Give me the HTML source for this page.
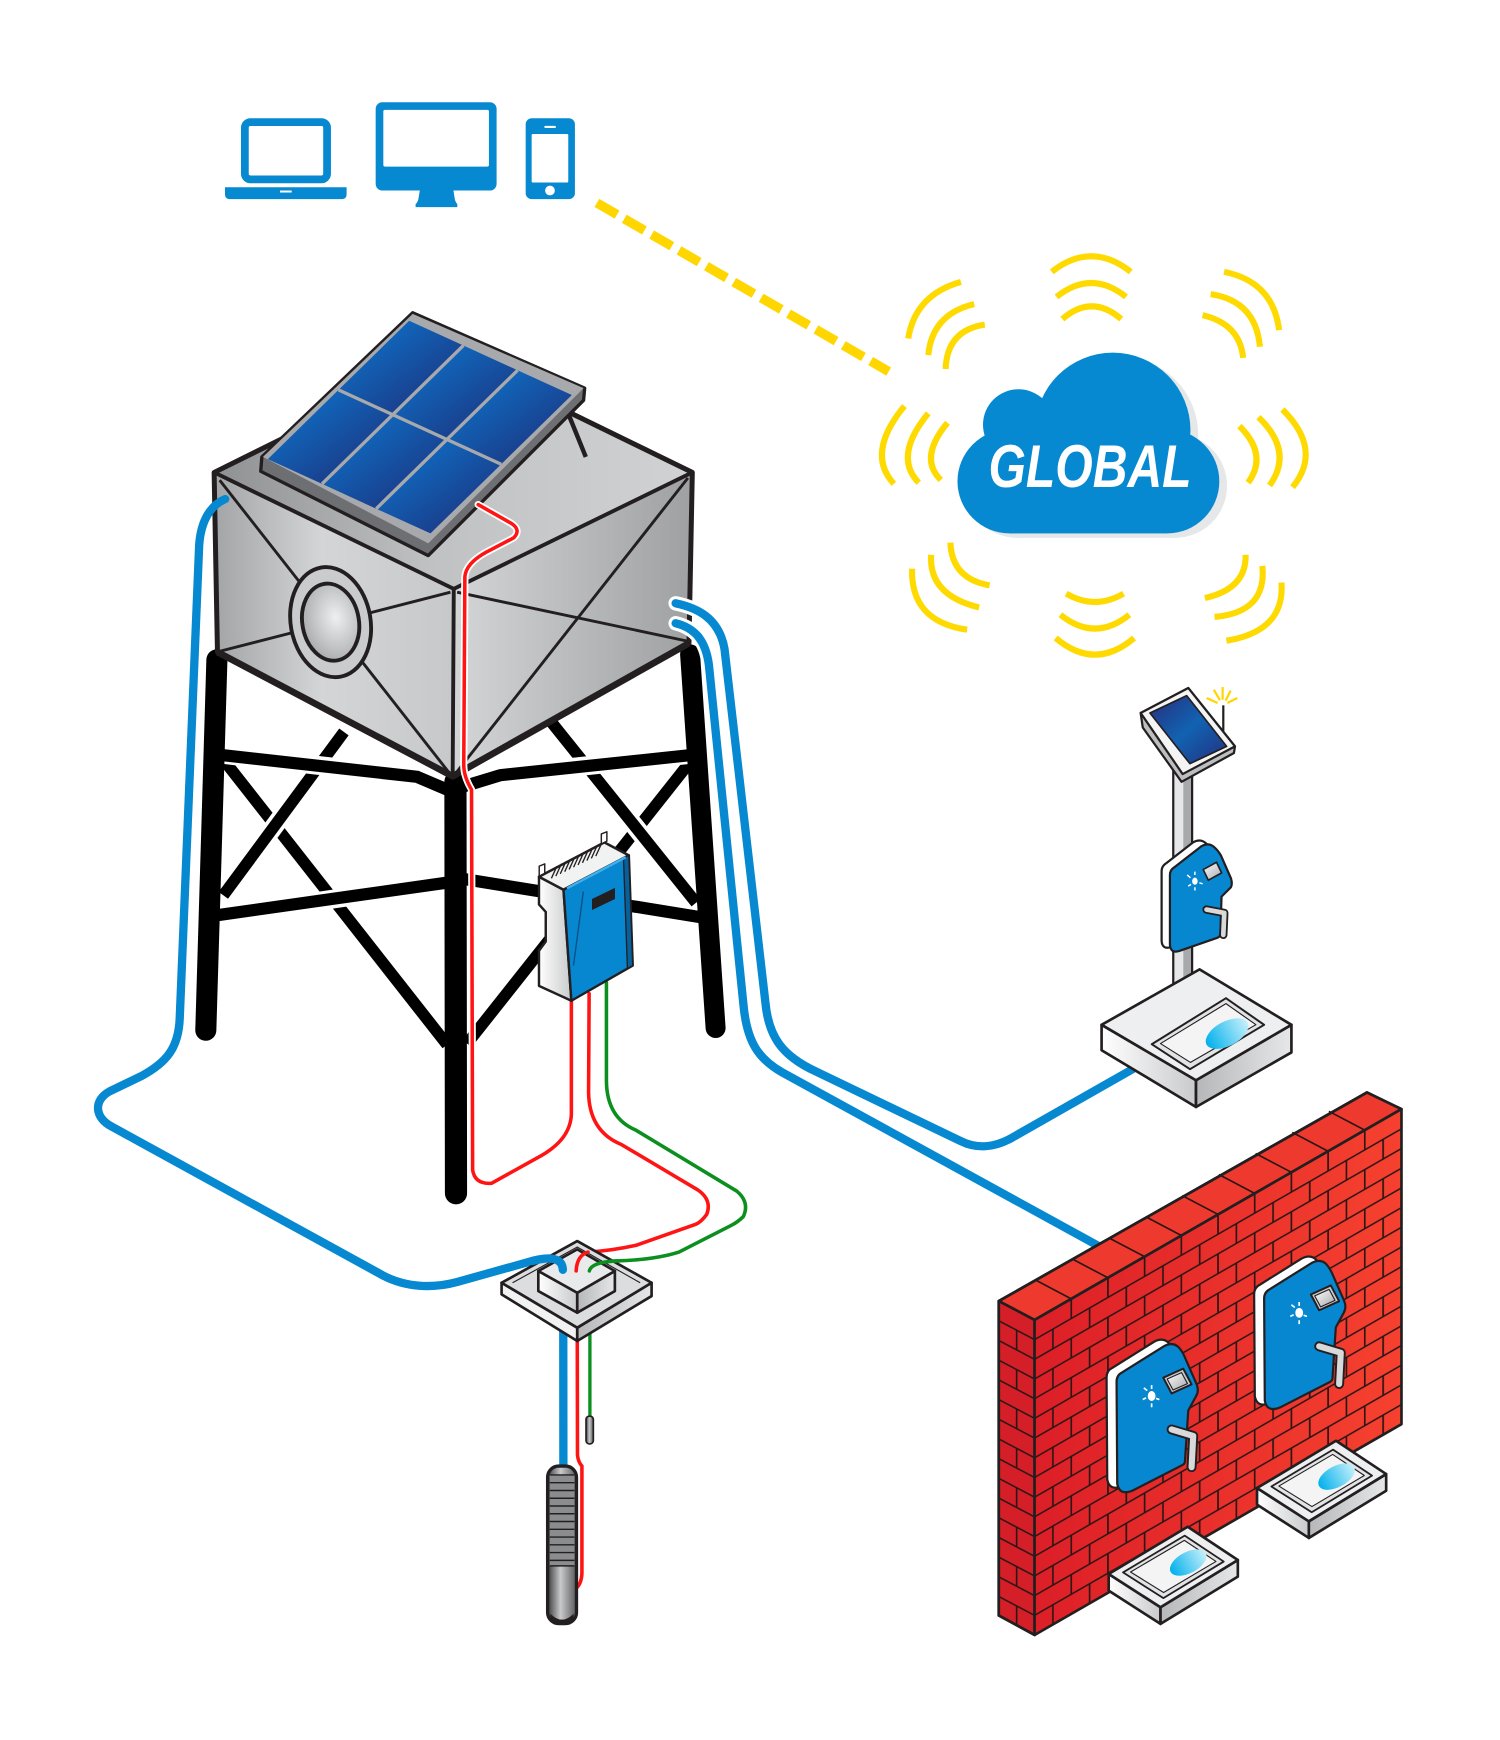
<!DOCTYPE html>
<html><head><meta charset="utf-8"><style>html,body{margin:0;padding:0;background:#fff}svg{display:block}</style></head>
<body>
<svg width="1500" height="1740" viewBox="0 0 1352 1569" preserveAspectRatio="none" xmlns="http://www.w3.org/2000/svg">
<defs>
<linearGradient id="gTop" x1="0" y1="0" x2="1" y2="0"><stop offset="0" stop-color="#8e9092"/><stop offset="0.45" stop-color="#bfc1c3"/><stop offset="1" stop-color="#d0d2d4"/></linearGradient>
<linearGradient id="gLeft" x1="0" y1="0" x2="1" y2="0"><stop offset="0" stop-color="#a2a4a6"/><stop offset="0.45" stop-color="#d3d5d7"/><stop offset="1" stop-color="#c6c8ca"/></linearGradient>
<linearGradient id="gRight" x1="0" y1="0" x2="1" y2="0"><stop offset="0" stop-color="#d3d5d7"/><stop offset="1" stop-color="#9ea0a2"/></linearGradient>
<linearGradient id="gCell" x1="0" y1="0" x2="1" y2="1"><stop offset="0" stop-color="#0b7bd4"/><stop offset="1" stop-color="#1f2a74"/></linearGradient>
<radialGradient id="gPort" cx="0.6" cy="0.45" r="0.7"><stop offset="0" stop-color="#eeeff0"/><stop offset="1" stop-color="#9fa1a4"/></radialGradient>
<linearGradient id="gWall" x1="0" y1="0" x2="1" y2="0"><stop offset="0" stop-color="#dc1f27"/><stop offset="1" stop-color="#f6412f"/></linearGradient>
<linearGradient id="gWater" x1="0" y1="0" x2="1" y2="0"><stop offset="0" stop-color="#00b0ec"/><stop offset="1" stop-color="#c6f0fa"/></linearGradient>
<linearGradient id="gScreen" x1="0" y1="0" x2="1" y2="1"><stop offset="0" stop-color="#262e7c"/><stop offset="0.5" stop-color="#1262b2"/><stop offset="1" stop-color="#23307e"/></linearGradient>
<linearGradient id="gPump" x1="0" y1="0" x2="1" y2="0"><stop offset="0" stop-color="#3b3c3e"/><stop offset="0.45" stop-color="#c8cacc"/><stop offset="1" stop-color="#58595b"/></linearGradient>
<linearGradient id="gGrayL" x1="0" y1="0" x2="1" y2="0"><stop offset="0" stop-color="#ffffff"/><stop offset="1" stop-color="#c9cacc"/></linearGradient>
<linearGradient id="gGrayR" x1="0" y1="0" x2="1" y2="0"><stop offset="0" stop-color="#b5b7b9"/><stop offset="1" stop-color="#e6e7e8"/></linearGradient>
<linearGradient id="gScr" x1="0" y1="0" x2="1" y2="1"><stop offset="0" stop-color="#ffffff"/><stop offset="1" stop-color="#a7a9ac"/></linearGradient>
<pattern id="brick" patternUnits="userSpaceOnUse" x="0" y="0" width="66.14" height="35.52">
<path d="M0,0H66.14M0,17.76H66.14M0,35.52H66.14M0,0V17.76M33.07,0V17.76M66.14,0V17.76M16.535,17.76V35.52M49.6,17.76V35.52" stroke="#2b1515" stroke-width="1.5" fill="none"/>
</pattern>
<pattern id="brickEnd" patternUnits="userSpaceOnUse" x="0" y="0" width="32.3" height="35.52">
<path d="M0,0H32.3M0,17.76H32.3M0,35.52H32.3M16.15,17.76V35.52" stroke="#2b1515" stroke-width="1.5" fill="none"/>
</pattern>
</defs>

<!-- devices -->
<g fill="#0789D1">
<rect x="220.7" y="110.1" width="74.1" height="51.6" rx="5" fill="none" stroke="#0789D1" stroke-width="7"/>
<path d="M202.8,168.8 H312.4 V175 Q312.4,179.6 307.5,179.6 H207.7 Q202.8,179.6 202.8,175 Z"/>
<rect x="252.4" y="171.8" width="10.5" height="1.8" fill="#fff"/>
<rect x="338.6" y="92.2" width="109" height="79.6" rx="6"/>
<rect x="345.5" y="99.1" width="95.2" height="51.1" rx="1.5" fill="#fff"/>
<path d="M378.5,171 L408.6,171 L410,180 Q411,183 412.2,184 L412.2,186.8 L374.6,186.8 L374.6,184 Q376,183 377,180 Z"/>
<rect x="473.8" y="106.6" width="44.4" height="73" rx="5.5"/>
<rect x="479.2" y="120.8" width="33" height="43.8" rx="1" fill="#fff"/>
<rect x="490.6" y="113.5" width="10.5" height="1.9" rx="0.9" fill="#fff"/>
<circle cx="495.7" cy="171.8" r="4.4" fill="#fff"/>
</g>

<!-- yellow dashed link -->
<line x1="538" y1="183" x2="801" y2="335" stroke="#FFD600" stroke-width="8.5" stroke-dasharray="21 7.5"/>

<!-- waves -->
<g fill="none" stroke="#FFDA00" stroke-width="5.5">
<path d="M948,245.1 Q983.6,217.1 1019.2,245.1"/>
<path d="M952.3,267.7 Q983.6,242.7 1014.9,267.7"/>
<path d="M957.5,287.7 Q984,264.7 1010.6,287.7"/>
<path d="M961,535.3 Q986.9,550.3 1012.7,535.3"/>
<path d="M955.8,554.3 Q986.9,579.3 1017.9,554.3"/>
<path d="M951.5,575.3 Q986.9,605.3 1022.2,575.3"/>
<path d="M815.2,366.2 Q780.1,408.7 805.7,436.3"/>
<path d="M836.7,372.7 Q804.8,411.4 828.1,435.3"/>
<path d="M854,381.2 Q827.6,413 848,432.8"/>
<path d="M1117.1,384.2 Q1143.4,410.2 1124.9,435.3"/>
<path d="M1134.3,376.2 Q1166.5,407 1144.3,437.8"/>
<path d="M1155.9,369.2 Q1192.7,405.7 1165,439.3"/>
<path d="M866.1,254.2 Q825,265.7 818.6,305.2"/>
<path d="M878.1,274.2 Q840.2,283.2 836.7,320.2"/>
<path d="M887.6,292.7 Q853.6,297.7 852.3,332.7"/>
<path d="M1103.3,245.1 Q1147.5,254 1152.9,297.7"/>
<path d="M1091.2,265.2 Q1132,271.4 1135.6,312.7"/>
<path d="M1083.9,284.2 Q1117.4,291.9 1120.5,322.7"/>
<path d="M856.6,489.3 Q857.9,522 892,527.8"/>
<path d="M839.3,500.3 Q836.7,536.5 882.5,547.8"/>
<path d="M822.1,512.8 Q820.5,560.3 871.7,567.8"/>
<path d="M1122.7,500.3 Q1123.6,530.8 1086,539.3"/>
<path d="M1137.8,510.3 Q1142.1,552.3 1094.7,556.3"/>
<path d="M1155,525.3 Q1158.4,569 1105.4,577.8"/>
</g>

<!-- cloud -->
<g fill="#e6e7e8" transform="translate(7,4)">
<circle cx="910" cy="434" r="47"/><circle cx="1052" cy="434" r="47"/><circle cx="918" cy="383" r="32"/><circle cx="1003" cy="388" r="70"/><rect x="910" y="400" width="142" height="81"/>
</g>
<g fill="#0789D1">
<circle cx="910" cy="434" r="47"/><circle cx="1052" cy="434" r="47"/><circle cx="918" cy="383" r="32"/><circle cx="1003" cy="388" r="70"/><rect x="910" y="400" width="142" height="81"/>
</g>
<text x="891" y="439" font-family="'Liberation Sans', sans-serif" font-weight="bold" font-style="italic" font-size="54" fill="#fff" textLength="183" lengthAdjust="spacingAndGlyphs">GLOBAL</text>

<!-- tower braces -->
<g stroke="#000" stroke-linecap="butt" fill="none">
<line x1="203" y1="687" x2="403" y2="942" stroke-width="10.5"/>
<line x1="622" y1="687" x2="421" y2="941" stroke-width="10.5"/>
<line x1="310" y1="660" x2="201.3" y2="807.3" stroke="#fff" stroke-width="17"/>
<line x1="310" y1="660" x2="201.3" y2="807.3" stroke-width="10.5"/>
<line x1="494.6" y1="648.2" x2="627.4" y2="814" stroke="#fff" stroke-width="17"/>
<line x1="494.6" y1="648.2" x2="627.4" y2="814" stroke-width="10.5"/>
<g stroke="#fff" stroke-width="17">
<path d="M203,680.5 L376,700.5 L403,712"/>
<path d="M415,710 L451,699 L620,680.5"/>
<line x1="199.6" y1="825.6" x2="402.8" y2="795.6"/>
<line x1="420.6" y1="792.3" x2="627.4" y2="827.3"/>
</g>
<g stroke-width="11" stroke-linejoin="round">
<path d="M197,680.5 L376,700.5 L403,712"/>
<path d="M415,710 L451,699 L626,680.5"/>
<line x1="193.6" y1="825.6" x2="405" y2="795.6"/>
<line x1="416" y1="792.3" x2="633" y2="827.3"/>
</g>
</g>
<!-- legs -->
<g stroke="#000" stroke-linecap="round">
<line x1="195.5" y1="595" x2="185.5" y2="929" stroke-width="19"/>
<line x1="410.5" y1="705" x2="411" y2="1076" stroke-width="20"/>
<line x1="622" y1="590" x2="645" y2="927" stroke-width="18"/>
</g>

<!-- tank -->
<polygon points="193,426 407,320 624,426 409,531" fill="url(#gTop)"/>
<polygon points="193,426 409,531 408,700 196,588" fill="url(#gLeft)"/>
<polygon points="409,531 624,426 621,580 408,700" fill="url(#gRight)"/>
<g stroke="#231f20" fill="none" stroke-linejoin="round">
<path d="M198,433 L405,697 M199,587 L406,534 M412,534 L619,578 M620,431 L411,697" stroke-width="2.6"/>
<path d="M193,426 L409,531 L624,426 M409,531 L408,700" stroke-width="3.5"/>
<path d="M193,426 L407,320 L624,426 L621,580 L408,700 L196,588 Z" stroke-width="4.5"/>
<path d="M196,588 L408,700 L621,580" stroke-width="6"/>
</g>
<g transform="rotate(-10 298 561)" stroke="#231f20" stroke-width="3.5">
<ellipse cx="298" cy="561" rx="36" ry="50" fill="#c9cbcd"/>
<ellipse cx="298" cy="561" rx="25.5" ry="35" fill="url(#gPort)"/>
</g>

<!-- solar panel -->
<line x1="513" y1="375" x2="528" y2="412" stroke="#231f20" stroke-width="4"/>
<polygon points="236,412 372,282 527,350 526,361 386,501 235,425" fill="#6d6f72" stroke="#231f20" stroke-width="3" stroke-linejoin="round"/>
<polygon points="237,412 372,283 526,350 386,490" fill="#a7a9ac"/>
<g fill="url(#gCell)">
<polygon points="368.8,289.2 417.7,311.5 354,373.9 305.1,351.6"/>
<polygon points="417.7,311.5 466.5,333.9 402.8,396.3 354,373.9"/>
<polygon points="466.5,333.9 515.4,356.2 451.7,418.6 402.8,396.3"/>
<polygon points="305.1,351.6 354,373.9 290.3,436.3 241.4,414"/>
<polygon points="354,373.9 402.8,396.3 339.1,458.7 290.3,436.3"/>
<polygon points="402.8,396.3 451.7,418.6 388,481 339.1,458.7"/>
</g>
<path d="M305.1,351.6 L451.7,418.6 M417.7,311.5 L290.3,436.3 M466.5,333.9 L339.1,458.7" stroke="#a7a9ac" stroke-width="3"/>

<!-- right pipes -->
<g fill="none" stroke-linecap="round" stroke-linejoin="round">
<path d="M609,544 C628,548 648,557 653,585 L690,905 C693,935 705,952 735,966 L866,1029 C880,1036 896,1035 912,1026 L1021,964" stroke="#fff" stroke-width="13"/>
<path d="M609,562 C625,566 636,576 639,600 L670,905 C673,940 684,955 705,967 L991,1124" stroke="#fff" stroke-width="13"/>
<path d="M609,544 C628,548 648,557 653,585 L690,905 C693,935 705,952 735,966 L866,1029 C880,1036 896,1035 912,1026 L1021,964" stroke="#0789D1" stroke-width="7.5"/>
<path d="M609,562 C625,566 636,576 639,600 L670,905 C673,940 684,955 705,967 L991,1124" stroke="#0789D1" stroke-width="7.5"/>
<!-- left pipe -->
<path d="M203,450 C191,455 181,468 179.5,492 L162,918 C161,945 150,958 128,970 L99,984 C84,992 85,1008 101,1016 L345,1150 C366,1161 390,1162 412,1156 L480,1137 C496,1133 507,1134 507.5,1144" stroke="#0789D1" stroke-width="7.5"/>
</g>

<!-- red wire 1 -->
<g fill="none" stroke-linecap="round" stroke-linejoin="round">
<path d="M431,455 L461,472 Q470,478 463,485 L438,498 Q420,508 419,520 L418,690 Q418,700 425,712 L426,1055 Q428,1068 443,1067 L488,1042 Q514,1027 515,1005 L515,902" stroke="#fff" stroke-width="6.5"/>
<path d="M431,455 L461,472 Q470,478 463,485 L438,498 Q420,508 419,520 L418,690 Q418,700 425,712 L426,1055 Q428,1068 443,1067 L488,1042 Q514,1027 515,1005 L515,902" stroke="#ff1414" stroke-width="3.2"/>
<path d="M531,896 L530.5,985 Q531,1020 560,1032 L629,1073 Q642,1082 637,1095 Q632,1102 627,1104 L573,1123 Q550,1128 530,1129 Q520,1132 519.3,1146" stroke="#ff1414" stroke-width="3.2"/>
<path d="M546.6,886 L546.6,975 Q547,1008 573,1019 L664,1074 Q676,1084 670,1097 Q665,1102 659,1105 L612,1129 Q590,1136 556,1137 Q533,1138 531.2,1146" stroke="#0b8f1f" stroke-width="3.2"/>
</g>

<!-- controller -->
<g stroke="#231f20" stroke-width="2.2" stroke-linejoin="round">
<polygon points="485.8,790.6 507.9,802.3 515,902.4 485.8,889 485.8,857.3 491.9,849 491.9,822.3 485.8,815.6" fill="url(#gGrayL)"/>
<polygon points="485.8,790.6 544.7,759.6 566.8,771.3 507.9,802.3" fill="#f1f2f2"/>
<polygon points="507.9,802.3 566.8,771.3 570.3,870.7 515,902.4" fill="#0787d0"/>
<polygon points="562,774 566.8,771.3 570.3,870.7 565.5,873.3" fill="#05609e" stroke-width="1.2"/>
<polygon points="486,790 486,781 491,779 491,787.5" fill="#fff" stroke-width="1.3"/>
<polygon points="542,761 542,752 547,750 547,758.5" fill="#fff" stroke-width="1.3"/>
</g>
<path d="M511,801 L564,773" stroke="#3fb0ef" stroke-width="2.2"/>
<path d="M525.8,804 L516.9,870.7" stroke="#0a4f86" stroke-width="1.2"/>
<polygon points="533.6,810.6 554.3,800.6 554.3,810.6 533.6,820.6" fill="#231f20"/>
<g stroke="#231f20" stroke-width="1.2">
<path d="M497,792 l5,-11 M501,790 l5,-11 M505,788 l5,-11 M509,786 l5,-11 M513,784 l5,-11 M517,782 l5,-11 M521,780 l5,-11 M525,778 l5,-11 M529,776 l5,-11 M533,774 l5,-11 M537,772 l5,-11"/>
</g>

<!-- below well: wires to pump -->
<g fill="none" stroke-linecap="round">
<path d="M507.7,1200 L507.8,1326" stroke="#0789D1" stroke-width="7.5"/>
<path d="M520.3,1205 L520.5,1312 Q521,1318 524.5,1322 L524.5,1419 Q524,1428 519.5,1432" stroke="#ff1414" stroke-width="3.2"/>
<path d="M531.7,1200 L531.7,1278" stroke="#0b8f1f" stroke-width="3"/>
</g>
<rect x="528.2" y="1277" width="6.6" height="25" rx="3" fill="url(#gPump)" stroke="#231f20" stroke-width="1.5"/>
<!-- pump -->
<rect x="493.6" y="1322" width="26" height="142" rx="10" fill="url(#gPump)" stroke="#231f20" stroke-width="3"/>
<rect x="495.5" y="1330" width="22.2" height="82" fill="#8a8c8e"/>
<g stroke="#231f20" stroke-width="1.3">
<path d="M495.5,1330 H517.7 M495.5,1337 H517.7 M495.5,1344 H517.7 M495.5,1351 H517.7 M495.5,1358 H517.7 M495.5,1365 H517.7 M495.5,1372 H517.7 M495.5,1379 H517.7 M495.5,1386 H517.7 M495.5,1393 H517.7 M495.5,1400 H517.7 M495.5,1407 H517.7 M495.5,1412 H517.7"/>
</g>
<path d="M496,1455 Q506.6,1466 517,1455 L517,1461 Q506.6,1468 496,1461 Z" fill="#231f20"/>

<!-- junction plate & box -->
<g stroke="#231f20" stroke-width="2.4" stroke-linejoin="round">
<polygon points="452.1,1156.7 520.3,1197.2 520.3,1209.2 452.1,1167.2" fill="#f1f2f2"/>
<polygon points="520.3,1197.2 587.3,1156.7 587.3,1168.7 520.3,1209.2" fill="url(#gGrayR)"/>
<polygon points="452.1,1156.7 520.3,1119.1 587.3,1156.7 520.3,1197.2" fill="#dcddde"/>
<polygon points="485.2,1146.1 520.3,1165.7 520.3,1183.7 485.2,1164.2" fill="url(#gGrayL)"/>
<polygon points="520.3,1165.7 554.2,1146.1 554.2,1164.2 520.3,1183.7" fill="url(#gGrayR)"/>
<polygon points="485.2,1146.1 520.3,1126.6 554.2,1146.1 520.3,1165.7" fill="#e9eaeb"/>
</g>
<path d="M462,1156.7 L520.3,1124.5 L577,1156.7" fill="none" stroke="#231f20" stroke-width="1"/>
<!-- wire ends on box -->
<g fill="none" stroke-linecap="round">
<path d="M480,1137 C496,1133 507,1134 507.3,1145" stroke="#0789D1" stroke-width="7.5"/>
<path d="M530,1129 Q520,1132 519.3,1146" stroke="#ff1414" stroke-width="3.2"/>
<path d="M556,1137 Q533,1138 531.2,1146" stroke="#0b8f1f" stroke-width="3.2"/>
</g>

<!-- kiosk -->
<rect x="1057.5" y="695" width="9" height="224" fill="#e6e7e8"/>
<rect x="1066.5" y="695" width="8" height="224" fill="#a7a9ac"/>
<rect x="1057.5" y="695" width="17" height="224" fill="none" stroke="#231f20" stroke-width="2"/>
<line x1="1102.6" y1="636" x2="1102.6" y2="662" stroke="#231f20" stroke-width="2"/>
<g stroke="#FFD600" stroke-width="2">
<line x1="1087.5" y1="629.4" x2="1097.5" y2="633.9"/>
<line x1="1094.1" y1="621.9" x2="1099.6" y2="631.5"/>
<line x1="1102" y1="619.5" x2="1102" y2="630.9"/>
<line x1="1109.2" y1="622.8" x2="1104.7" y2="631.8"/>
<line x1="1115.2" y1="629.4" x2="1106.2" y2="633.9"/>
</g>
<g stroke="#231f20" stroke-width="2" stroke-linejoin="round">
<polygon points="1028.1,642.9 1071.1,620.4 1113.1,673 1112.2,679 1065,705 1030,656" fill="#bcbec0"/>
<polygon points="1028.1,642.9 1071.1,620.4 1113.1,673 1066,698" fill="#f4f4f5"/>
<polygon points="1036.5,642.9 1069.6,627.3 1105.6,673 1072.5,688.6" fill="url(#gScreen)" stroke-width="1.5"/>
</g>
<!-- pole dispenser -->
<g stroke="#231f20" stroke-width="2" stroke-linejoin="round">
<path transform="translate(-7.5,-3.5)" d="M1054.5,789 Q1054.5,784.5 1058.5,782 L1083,763 Q1089,759.5 1094,763.5 Q1098,767 1100.5,771.5 L1109.5,792 Q1111,797 1109.5,800 L1101,808.5 L1100,842 Q1100,844.5 1097.5,845.5 L1063,857.5 Q1055,860 1054.5,852 Z" fill="#fff"/>
<path d="M1054.5,789 Q1054.5,784.5 1058.5,782 L1083,763 Q1089,759.5 1094,763.5 Q1098,767 1100.5,771.5 L1109.5,792 Q1111,797 1109.5,800 L1101,808.5 L1100,842 Q1100,844.5 1097.5,845.5 L1063,857.5 Q1055,860 1054.5,852 Z" fill="#0787d0"/>
<polygon points="1084.5,784.1 1096.5,777.5 1101.1,787.1 1089.1,793.7" fill="url(#gScr)" stroke-width="1.5"/>
</g>
<g stroke="#fff" stroke-width="1.3" fill="#fff">
<ellipse cx="1077" cy="794.6" rx="2.5" ry="3.2" stroke="none"/>
<path d="M1070,789 l3,2.5 M1077,786 v3 M1084,797 l-3,-1 M1077,803 v-3 M1071,799 l2.5,-1.5"/>
</g>
<path d="M1087.5,820.2 L1103.5,823.2 L1102.6,843" fill="none" stroke="#231f20" stroke-width="7.5" stroke-linecap="round" stroke-linejoin="round"/>
<path d="M1087.5,820.2 L1103.5,823.2 L1102.6,843" fill="none" stroke="#d8d9da" stroke-width="4.2" stroke-linecap="round" stroke-linejoin="round"/>
<!-- kiosk base -->
<g stroke="#231f20" stroke-width="2.4" stroke-linejoin="round">
<polygon points="992.9,924.1 1078,974.1 1078,998.2 992.9,947" fill="url(#gGrayL)"/>
<polygon points="1078,974.1 1164,924.1 1164,949 1078,998.2" fill="url(#gGrayR)"/>
<polygon points="992.9,924.1 1081.2,874.1 1164,924.1 1078,974.1" fill="#eeeff0"/>
<polygon points="1038.1,941.6 1105,900.1 1139.4,924.1 1072.6,964.1" fill="#e2e3e4" stroke-width="1.8"/>
<polygon points="1046,941 1105,905 1132,924 1073,958" fill="#f4f4f5" stroke-width="1"/>
</g>
<ellipse cx="1106" cy="932" rx="21" ry="11" transform="rotate(-28 1106 932)" fill="url(#gWater)"/>

<!-- wall -->
<g stroke="#231f20" stroke-width="2.4" stroke-linejoin="round">
<polygon points="900.2,1173.2 1232.1,985.1 1263.2,1000.1 932.5,1190.2" fill="#ee3a2e"/>
<polygon points="900.2,1173.2 932.5,1190.2 932.5,1474.3 900.2,1456.7" fill="#d41f28"/>
</g>
<g transform="matrix(1 -0.5748 0 1 932.5 1190.2)">
<rect width="330.7" height="284.1" fill="url(#gWall)"/>
<rect width="330.7" height="284.1" fill="url(#brick)"/>
</g>
<g transform="matrix(1 0.527 0 1 900.2 1173.2)">
<rect width="32.3" height="284.1" fill="url(#brickEnd)"/>
</g>
<g stroke="#2b1515" stroke-width="1.5">
<path d="M933.3,1154.2 L965.6,1171.2 M966.3,1135.2 L998.6,1152.2 M999.4,1116.2 L1031.7,1133.2 M1032.5,1097.1 L1064.8,1114.1 M1065.6,1078.1 L1097.9,1095.1 M1098.6,1059.1 L1130.9,1076.1 M1131.7,1040.1 L1164,1057.1 M1164.8,1021.1 L1197.1,1038.1 M1197.8,1002.1 L1230.1,1019.1"/>
</g>
<g fill="none" stroke="#231f20" stroke-width="2.4" stroke-linejoin="round">
<polygon points="900.2,1173.2 1232.1,985.1 1263.2,1000.1 1263.2,1284.2 932.5,1474.3 900.2,1456.7"/>
<path d="M932.5,1190.2 L1263.2,1000.1 M932.5,1190.2 L932.5,1474.3"/>
</g>

<!-- wall units -->
<g id="unit1">
<g stroke="#231f20" stroke-width="2" stroke-linejoin="round">
<path transform="translate(-9,-4)" d="M1006.4,1246 Q1006.4,1240 1011.5,1237.5 L1049,1214 Q1057,1209.5 1062.5,1215 Q1066,1219 1068,1224 L1078.5,1248 Q1081,1254 1078,1259 L1071,1272 L1068,1318 Q1068,1320 1065,1321.5 L1021,1344 Q1009,1349 1007,1338 Z" fill="#fff"/>
<path d="M1006.4,1246 Q1006.4,1240 1011.5,1237.5 L1049,1214 Q1057,1209.5 1062.5,1215 Q1066,1219 1068,1224 L1078.5,1248 Q1081,1254 1078,1259 L1071,1272 L1068,1318 Q1068,1320 1065,1321.5 L1021,1344 Q1009,1349 1007,1338 Z" fill="#0787d0"/>
<polygon points="1048.5,1242.3 1066.5,1234.1 1074,1248.3 1056,1256.5" fill="#c9cacc" stroke-width="1.8"/>
<polygon points="1052,1243.5 1065,1237.7 1070.3,1247.6 1057.3,1253.4" fill="url(#gScr)" stroke-width="1"/>
</g>
<ellipse cx="1038" cy="1258.8" rx="3.5" ry="4.5" fill="#fff"/>
<path d="M1031,1251.5 l3,2.5 M1038,1249 v3.5 M1045,1262 l-3,-1 M1038,1269 v-3.5 M1030,1262 l3,-1.5" stroke="#fff" stroke-width="1.5"/>
<path d="M1056,1289 L1075.5,1294.8 L1074,1323" fill="none" stroke="#231f20" stroke-width="9" stroke-linecap="round" stroke-linejoin="round"/>
<path d="M1056,1289 L1075.5,1294.8 L1074,1323" fill="none" stroke="#d8d9da" stroke-width="5.5" stroke-linecap="round" stroke-linejoin="round"/>
</g>
<use href="#unit1" transform="translate(133,-75)"/>

<!-- sinks under wall -->
<g id="sink1">
<g stroke="#231f20" stroke-width="2.4" stroke-linejoin="round">
<polygon points="999.3,1419.3 1046,1449.3 1046,1464.3 999.3,1434.3" fill="url(#gGrayL)"/>
<polygon points="1046,1449.3 1115.7,1406.7 1115.7,1421.7 1046,1464.3" fill="url(#gGrayR)"/>
<polygon points="999.3,1419.3 1070.5,1376.7 1115.7,1406.7 1046,1449.3" fill="#eeeff0"/>
<polygon points="1012.2,1417.9 1067.8,1384.7 1103,1408.1 1048.6,1441.1" fill="#e2e3e4" stroke-width="1.6"/>
<polygon points="1019,1417.5 1067.5,1389 1096,1408 1048.8,1436" fill="#f4f4f5" stroke-width="1"/>
</g>
<ellipse cx="1071" cy="1409" rx="18" ry="9.5" transform="rotate(-28 1071 1409)" fill="url(#gWater)"/>
</g>
<use href="#sink1" transform="translate(133.7,-77.5)"/>
</svg>
</body></html>
